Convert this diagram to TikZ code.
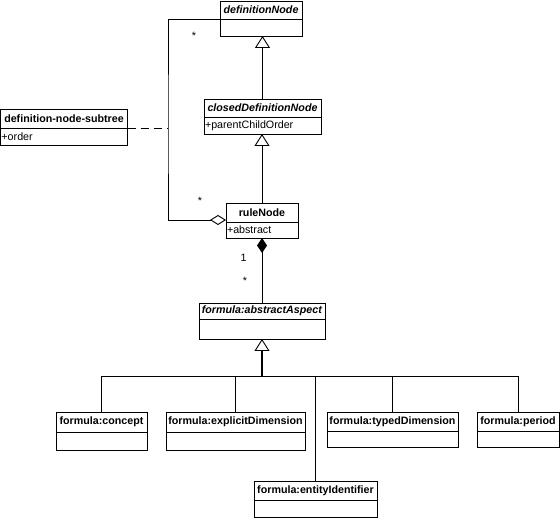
\documentclass[tikz,border=0pt]{standalone}
\usepackage{fontspec}
\setmainfont{Liberation Sans}
\usetikzlibrary{positioning,arrows.meta}
\tikzset{
  umlhead/.style={draw, line width=0.9pt, outer sep=0pt, inner sep=1pt, anchor=north west,
    font=\fontsize{10.7}{12}\selectfont\bfseries},
  umlbody/.style={draw, line width=0.9pt, outer sep=0pt, inner xsep=1pt, inner ysep=0pt,
    align=left, font=\fontsize{10.7}{12}\selectfont},
  gen/.style={line width=0.9pt, -{Triangle[length=12pt, width=15pt, fill=white]}},
  comp/.style={line width=0.9pt, -{Diamond[length=15pt, width=10pt]}},
  agg/.style={line width=0.9pt, -{Diamond[length=16pt, width=10pt, fill=white]}},
  mult/.style={anchor=base, inner sep=0pt, font=\fontsize{10.7}{12}\selectfont}
}
\begin{document}
\begin{tikzpicture}[x=1pt, y=-1pt]
\useasboundingbox (0,0) rectangle (560,518);
% classes
\node[umlhead, minimum width=82pt, minimum height=18pt] (defn) at (220,1) {\textit{definitionNode}};
\node[umlbody, below=0pt of defn, minimum width=82pt, minimum height=17pt] (defn-a) {};
\node[umlhead, minimum width=117pt, minimum height=18pt] (closed) at (204,99) {\textit{closedDefinitionNode}};
\node[umlbody, below=0pt of closed, text width=115pt, minimum height=17pt] (closed-a) {+parentChildOrder};
\node[umlhead, minimum width=127pt, minimum height=19pt] (subtree) at (0.5,109) {definition-node-subtree};
\node[umlbody, below=0pt of subtree, text width=125pt, minimum height=17pt] (subtree-a) {+order};
\node[umlhead, minimum width=72pt, minimum height=19pt] (rule) at (226,203) {ruleNode};
\node[umlbody, below=0pt of rule, text width=70pt, minimum height=16pt] (rule-a) {+abstract};
\node[umlhead, minimum width=126pt, minimum height=16pt] (aspect) at (199,303) {\textit{formula:abstractAspect}};
\node[umlbody, below=0pt of aspect, minimum width=126pt, minimum height=20pt] (aspect-a) {};
\node[umlhead, minimum width=91pt, minimum height=20pt] (concept) at (56,412) {formula:concept};
\node[umlbody, below=0pt of concept, minimum width=91pt, minimum height=18pt] (concept-a) {};
\node[umlhead, minimum width=139pt, minimum height=20pt] (explicit) at (166,412) {formula:explicitDimension};
\node[umlbody, below=0pt of explicit, minimum width=139pt, minimum height=18pt] (explicit-a) {};
\node[umlhead, minimum width=131pt, minimum height=19pt] (typed) at (327,412) {formula:typedDimension};
\node[umlbody, below=0pt of typed, minimum width=131pt, minimum height=16pt] (typed-a) {};
\node[umlhead, minimum width=82pt, minimum height=19pt] (period) at (477,412) {formula:period};
\node[umlbody, below=0pt of period, minimum width=82pt, minimum height=16pt] (period-a) {};
\node[umlhead, minimum width=123pt, minimum height=19pt] (entity) at (254,481) {formula:entityIdentifier};
\node[umlbody, below=0pt of entity, minimum width=123pt, minimum height=17pt] (entity-a) {};
% inheritance
\draw[gen] (closed.north) -- (closed.north |- defn-a.south);
\draw[gen] (rule.north) -- (rule.north |- closed-a.south);
% aggregation with association class
\coordinate (assoc) at (168,128);
\draw[agg] (defn.south west) -| (assoc) |- ([yshift=2pt]rule.south west);
\draw[line width=0.9pt, dash pattern=on 8pt off 5pt] (subtree.south east) -- (assoc);
\node[mult] (m-top) at (194,40) {*};
\node[mult] (m-agg) at (200,205) {*};
% composition
\draw[comp] (aspect.north) -- (rule-a.south);
\node[mult] (m-one) at (243.5,262) {1};
\node[mult] (m-many) at (245,285) {*};
% formula subclasses
\coordinate (bus) at (262,376);
\draw[line width=1.8pt] (bus) -- ([yshift=-12pt]aspect-a.south);
\draw[gen] ([yshift=-12pt]aspect-a.south) -- (aspect-a.south);
\foreach \c in {concept,explicit,entity,typed,period}
  \draw[line width=0.9pt] (bus) -| (\c.north);
\end{tikzpicture}
\end{document}
